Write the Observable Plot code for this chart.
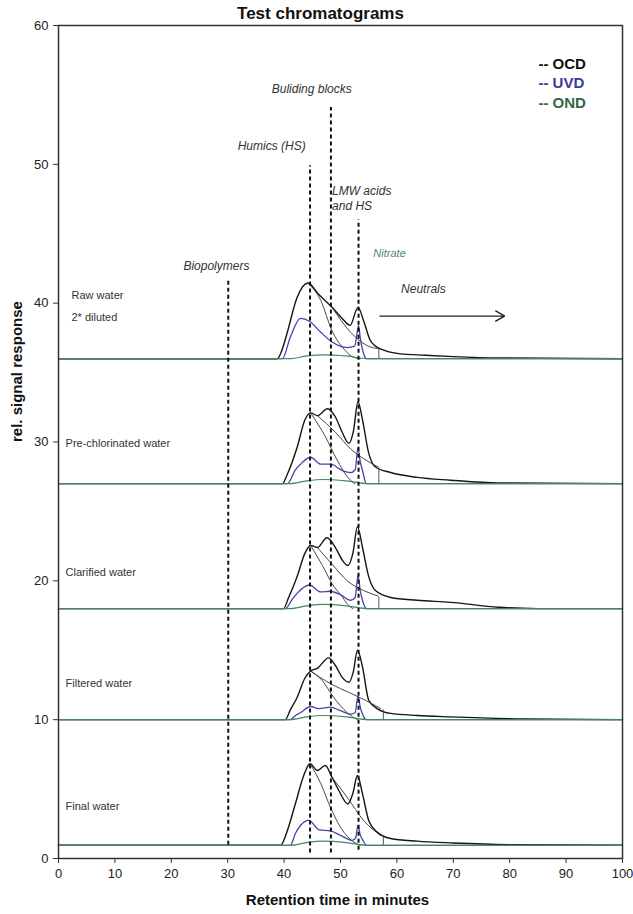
<!DOCTYPE html>
<html><head><meta charset="utf-8">
<script src="https://cdn.jsdelivr.net/npm/d3@7"></script>
<script src="https://cdn.jsdelivr.net/npm/@observablehq/plot@0.6"></script>
<style>body{margin:0;background:#fff} svg{display:block}</style>
</head><body><div id="chart"></div>
<script>
// ---- data (retention time in minutes, relative signal response) ----
const xTicks = [0,10,20,30,40,50,60,70,80,90,100];
const yTicks = [0,10,20,30,40,50,60];

// Raw water (2* diluted)
const rawOCD = [[0,36.0],[38.8,36.0],[39.6,36.6],[40.5,37.8],[42.3,40.4],[44.2,41.45],[46.2,40.6],[48.5,39.7],[50.3,38.9],[51.7,38.4],[53.1,39.7],[54.2,38.6],[55.3,37.3],[57.1,36.7],[60.6,36.35],[65,36.25],[70,36.15],[78,36.05],[100,36.0]];
const rawHum = [[44.2,41.45],[46.5,40.2],[48.5,38.0],[50.6,36.7],[52.3,36.1],[53.5,36.0]];
const rawBB  = [[48.5,39.7],[51.8,37.9],[54.7,36.95],[57.1,36.7]];
const rawUVD = [[0,36.0],[39.7,36.0],[41.1,37.55],[42.9,38.9],[44.5,38.7],[46.5,37.9],[48.5,37.2],[51.2,36.8],[52.5,36.9],[53.0,38.0],[53.2,38.4],[53.5,37.5],[54.0,36.5],[54.6,36.0],[100,36.0]];
const rawOND = [[0,36.0],[41,36.0],[44,36.2],[47,36.28],[51,36.2],[55,36.0],[100,36.0]];

// Pre-chlorinated water
const preOCD = [[0,27],[39.7,27],[40.6,27.7],[42.3,29.6],[43.7,31.6],[44.7,32.1],[45.9,31.9],[47.7,32.4],[49.1,31.8],[50.3,30.7],[51.5,29.9],[52.3,30.8],[53.1,32.9],[53.9,31.6],[55,29.2],[56.2,28.2],[58.9,27.8],[63.6,27.45],[69.5,27.25],[78,27.05],[100,27]];
const preHum = [[44.7,32.1],[47.3,30.4],[49.4,28.7],[51.2,27.5],[52.5,27.0]];
const preBB  = [[45.9,31.9],[49.1,30.7],[51.8,29.5],[54.1,28.8],[56.7,28.2]];
const preUVD = [[0,27],[40.6,27],[42.0,28.0],[42.9,28.4],[44.7,28.9],[46.5,28.4],[48.2,28.4],[50.3,27.95],[51.8,27.8],[52.6,28.0],[53.1,29.6],[53.5,28.6],[53.9,27.95],[54.6,27.0],[100,27]];
const preOND = [[0,27],[41,27],[44,27.2],[47,27.3],[51,27.2],[55,27],[100,27]];

// Clarified water
const claOCD = [[0,18],[39.9,18],[40.8,18.8],[42.3,20.3],[43.7,22.0],[44.7,22.55],[45.9,22.4],[47.6,23.1],[49.1,22.4],[50.3,21.5],[51.3,21.1],[52.2,22.0],[53,23.9],[53.9,22.4],[55,20.3],[56.2,19.3],[58.9,18.8],[63.6,18.6],[69.5,18.45],[78,18.1],[85,18.0],[100,18]];
const claHum = [[44.7,22.55],[46.8,21.1],[48.5,19.8],[50.3,18.85],[51.5,18.2],[52.2,18.0]];
const claBB  = [[45.9,22.4],[48.5,21.2],[51.2,20.0],[54.1,19.3],[56.7,18.9]];
const claUVD = [[0,18],[40.2,18],[41.5,18.7],[42.3,19.1],[44.5,19.7],[46.5,19.2],[48.2,19.25],[50,19.0],[51.8,18.6],[52.6,18.8],[53.1,20.4],[53.5,19.3],[53.9,18.6],[54.6,18],[100,18]];
const claOND = [[0,18],[41,18],[44,18.2],[47,18.3],[51,18.2],[55,18],[100,18]];

// Filtered water
const filOCD = [[0,10],[40.2,10],[41.1,10.7],[42.3,11.6],[43.7,13.0],[44.7,13.5],[45.9,13.7],[47.9,14.45],[49.1,13.9],[50.3,13.05],[51.5,12.7],[52.3,13.5],[53,15.0],[53.9,13.8],[55,11.4],[56.5,10.8],[58.9,10.45],[63.6,10.3],[69.5,10.2],[83,10.05],[100,10]];
const filHum = [[44.7,13.5],[46.8,12.8],[48.8,11.6],[51.2,10.5],[53,10.0]];
const filBB  = [[44.7,13.5],[48.2,12.6],[51.8,11.9],[54.4,11.4],[57.1,10.8]];
const filUVD = [[0,10],[41,10],[42.2,10.35],[42.9,10.5],[44.7,10.95],[46.2,10.8],[48.2,10.9],[50,10.65],[51.8,10.4],[52.6,10.5],[53.1,11.7],[53.5,10.9],[53.9,10.4],[54.6,10],[100,10]];
const filOND = [[0,10],[41,10],[44,10.2],[47,10.3],[51,10.2],[55,10],[100,10]];

// Final water
const finOCD = [[0,0.95],[39.4,0.95],[40.4,1.8],[42,3.94],[43.5,6.0],[44.6,6.82],[45.9,6.34],[47.3,6.7],[48.5,5.85],[49.7,4.9],[51.3,3.93],[52.2,4.7],[53,5.98],[53.9,4.65],[55,2.74],[56.5,1.9],[58.9,1.44],[63.6,1.25],[70,1.12],[80,1.0],[100,0.95]];
const finHum = [[44.6,6.82],[46.5,5.4],[48.2,3.7],[50,2.25],[52.4,1.17],[53.5,0.95]];
const finBB  = [[48.5,5.85],[51.2,4.4],[54.1,2.74],[57.1,1.66]];
const finUVD = [[0,0.95],[41.1,0.95],[42.0,1.8],[42.9,2.38],[44.4,2.74],[46.2,2.06],[48.2,1.99],[50,1.66],[52.1,1.3],[52.7,1.5],[53.1,2.38],[53.5,1.7],[54,1.3],[54.6,0.95],[100,0.95]];
const finOND = [[0,0.95],[41,0.95],[44,1.15],[47,1.25],[51,1.15],[55,0.95],[100,0.95]];

// short vertical markers at start of neutrals: [x, bottom, top]
const neutralTicks = [[56.8,36.0,36.7],[56.8,27.0,28.1],[56.8,18.0,18.8],[57.6,10.0,10.7],[57.6,0.95,1.53]];

// dashed fraction markers: [x, bottom, top]
const fractionLines = [[30.1,0.95,41.6],[44.6,0.4,49.9],[48.3,0.4,54.1],[53.2,0.6,46.0]];

// sample labels
const sampleLabels = [["Raw water",2.3,40.55],["2* diluted",2.3,38.97],["Pre-chlorinated water",1.25,29.87],["Clarified water",1.25,20.6],["Filtered water",1.25,12.6],["Final water",1.25,3.75]];
// fraction labels (centered)
const fractionLabels = [["Biopolymers",28,42.7],["Humics (HS)",37.8,51.3],["Buliding blocks",44.9,55.4],["Neutrals",64.7,41.0]];
const lmwLabels = [["LMW acids",48.5,48.05],["and HS",48.5,46.97]];
const nitrateLabel = [["Nitrate",58.7,43.56]];
const neutralsArrow = [[57.0,39.07,79.1,39.07]];
const legendItems = [["-- OCD",85.1,57.2,"#111"],["-- UVD",85.1,55.84,"#3a3a9e"],["-- OND",85.1,54.4,"#2f6a47"]];

// ---- build tables ----
const series = [
  ["raw","OCD",rawOCD],["raw","HUM",rawHum],["raw","BB",rawBB],["raw","UVD",rawUVD],["raw","OND",rawOND],
  ["pre","OCD",preOCD],["pre","HUM",preHum],["pre","BB",preBB],["pre","UVD",preUVD],["pre","OND",preOND],
  ["cla","OCD",claOCD],["cla","HUM",claHum],["cla","BB",claBB],["cla","UVD",claUVD],["cla","OND",claOND],
  ["fil","OCD",filOCD],["fil","HUM",filHum],["fil","BB",filBB],["fil","UVD",filUVD],["fil","OND",filOND],
  ["fin","OCD",finOCD],["fin","HUM",finHum],["fin","BB",finBB],["fin","UVD",finUVD],["fin","OND",finOND]
];
const rows = series.flatMap(([p,k,pts]) => pts.map(([x,y]) => ({id:p+k, kind:k, x, y})));
const of = k => rows.filter(d => d.kind === k);
const ticksT = neutralTicks.map(([x,y1,y2]) => ({x,y1,y2}));
const fracT = fractionLines.map(([x,y1,y2]) => ({x,y1,y2}));
const lab = a => a.map(([text,x,y,color]) => ({text,x,y,color}));

const font = "Liberation Sans, Arial, Helvetica, sans-serif";
const chart = Plot.plot({
  width: 633, height: 914,
  marginLeft: 58, marginRight: 11, marginTop: 25, marginBottom: 56,
  style: {fontFamily: font, fontSize: "13px", background: "#fff", color: "#222"},
  x: {domain: [0,100]},
  y: {domain: [0,60]},
  marks: [
    Plot.axisX({ticks: xTicks, tickSize: 5, tickPadding: 5, fontSize: 13, label: null, stroke: "#333"}),
    Plot.axisY({ticks: yTicks, tickSize: 5, tickPadding: 5, fontSize: 13, label: null, stroke: "#333"}),
    Plot.line(of("OCD"), {x:"x", y:"y", z:"id", stroke:"#151515", strokeWidth:1.4, curve:"monotone-x"}),
    Plot.line(of("HUM"), {x:"x", y:"y", z:"id", stroke:"#333", strokeWidth:0.9, curve:"monotone-x"}),
    Plot.line(of("BB"), {x:"x", y:"y", z:"id", stroke:"#333", strokeWidth:0.9, curve:"monotone-x"}),
    Plot.line(of("UVD"), {x:"x", y:"y", z:"id", stroke:"#4444a8", strokeWidth:1.3, curve:"monotone-x"}),
    Plot.line(of("OND"), {x:"x", y:"y", z:"id", stroke:"#3f8a62", strokeWidth:1.2, curve:"monotone-x"}),
    Plot.ruleX(ticksT, {x:"x", y1:"y1", y2:"y2", stroke:"#444", strokeWidth:0.9}),
    Plot.ruleX(fracT, {x:"x", y1:"y1", y2:"y2", stroke:"#111", strokeWidth:2, strokeDasharray:"4,3"}),
    Plot.arrow(neutralsArrow.map(([x1,y1,x2,y2]) => ({x1,y1,x2,y2})), {x1:"x1", y1:"y1", x2:"x2", y2:"y2", stroke:"#222", strokeWidth:1.4, headLength:11}),
    Plot.text(lab(sampleLabels), {x:"x", y:"y", text:"text", textAnchor:"start", fontSize:11, fill:"#333"}),
    Plot.text(lab(fractionLabels), {x:"x", y:"y", text:"text", textAnchor:"middle", fontSize:12, fontStyle:"italic", fill:"#333"}),
    Plot.text(lab(lmwLabels), {x:"x", y:"y", text:"text", textAnchor:"start", fontSize:12, fontStyle:"italic", fill:"#333"}),
    Plot.text(lab(nitrateLabel), {x:"x", y:"y", text:"text", textAnchor:"middle", fontSize:11, fontStyle:"italic", fill:"#4d8a6a"}),
    Plot.text(lab(legendItems), {x:"x", y:"y", text:"text", textAnchor:"start", fontSize:15, fontWeight:"bold", fill:"color"}),
    Plot.text(["Test chromatograms"], {frameAnchor:"top", lineAnchor:"middle", dy:-12, dx:-20, text: d => d, fontSize:17, fontWeight:"bold", fill:"#111"}),
    Plot.text(["Retention time in minutes"], {frameAnchor:"bottom", lineAnchor:"middle", dy:42, dx:-3, text: d => d, fontSize:15, fontWeight:"bold", fill:"#111"}),
    Plot.text(["rel. signal response"], {frameAnchor:"left", dx:-41, rotate:-90, text: d => d, fontSize:15, fontWeight:"bold", fill:"#111"}),
    Plot.frame({stroke:"#333", strokeWidth:1.5})
  ]
});
document.getElementById("chart").appendChild(chart);
</script>
</body></html>
